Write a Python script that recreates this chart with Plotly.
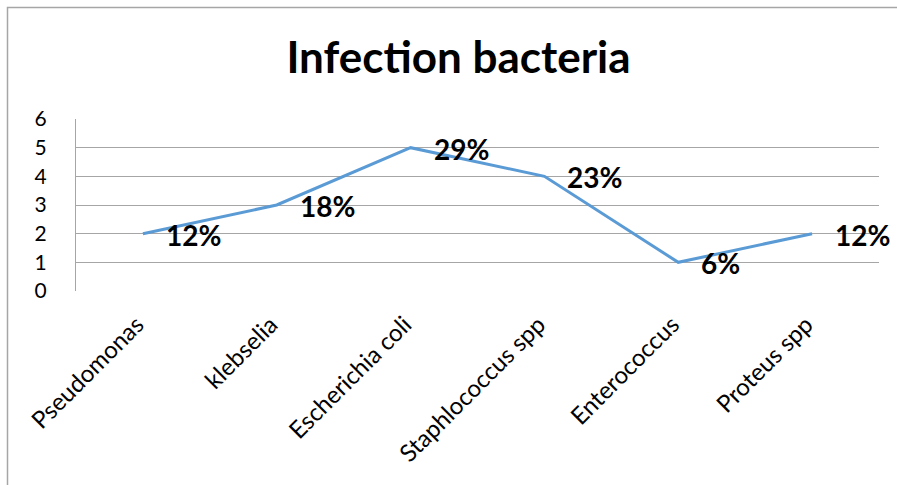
import plotly.graph_objects as go

categories = ["Pseudomonas", "klebselia", "Escherichia coli", "Staphlococcus spp", "Enterococcus", "Proteus spp"]
counts = [2, 3, 5, 4, 1, 2]
pct_labels = ["12%", "18%", "29%", "23%", "6%", "12%"]
y_ticks = [0, 1, 2, 3, 4, 5, 6]

W, H = 897, 485
L, R, T, B = 76, 18, 119, 194
pw, ph = W - L - R, H - T - B

def px_x(px):
    return (px - L) / pw

def px_y(py):
    return (H - B - py) / ph

FONT = "Lato"
band = pw / len(categories)
label_shift = -6 / band

fig = go.Figure()
fig.add_trace(go.Scatter(
    x=categories, y=counts, mode="lines",
    line=dict(color="#5B9BD5", width=3),
    cliponaxis=False, showlegend=False, hoverinfo="skip",
))
# invisible trace carrying the category tick labels
fig.add_trace(go.Scatter(
    x=categories, y=counts, mode="lines", xaxis="x2",
    line=dict(color="rgba(0,0,0,0)", width=0),
    showlegend=False, hoverinfo="skip",
))

for c, v, t in zip(categories, counts, pct_labels):
    fig.add_annotation(x=c, y=v, xref="x", yref="y", text=f"<b>{t}</b>",
                       showarrow=False, xanchor="left", yanchor="middle",
                       xshift=21, yshift=-1,
                       font=dict(family=FONT, size=28, color="#000000"))

fig.update_layout(
    width=W, height=H,
    margin=dict(l=L, r=R, t=T, b=B, autoexpand=False),
    paper_bgcolor="white", plot_bgcolor="white",
    title=dict(text="<b>Infection bacteria</b>", xref="container", x=458.5 / W,
               xanchor="center", y=1 - 58 / H, yanchor="middle",
               font=dict(family=FONT, size=44, color="#000000")),
    xaxis=dict(type="category", range=[-0.5, 5.5], showgrid=False, zeroline=False,
               showline=False, ticks="", showticklabels=False, automargin=False),
    xaxis2=dict(type="category", overlaying="x", side="bottom", anchor="y",
                range=[-0.5 - label_shift, 5.5 - label_shift],
                categoryorder="array", categoryarray=categories,
                tickangle=-45, showgrid=False, zeroline=False, showline=False,
                ticks="", automargin=False,
                tickfont=dict(family=FONT, size=24, color="#000000"),
                ticklabelstandoff=14),
    yaxis=dict(range=[0, 6], tickvals=y_ticks, showgrid=True, gridcolor="#A6A6A6",
               gridwidth=1, zeroline=False, showline=True, linecolor="#A6A6A6",
               linewidth=1, ticks="", automargin=False,
               tickfont=dict(family=FONT, size=21, color="#000000"),
               ticklabelstandoff=24),
    shapes=[dict(type="rect", xref="paper", yref="paper",
                 x0=px_x(7.5), x1=px_x(905), y0=px_y(7.5), y1=px_y(495),
                 line=dict(color="#A6A6A6", width=1.5), fillcolor="rgba(0,0,0,0)",
                 layer="below")],
)

fig.write_html("out.html")
